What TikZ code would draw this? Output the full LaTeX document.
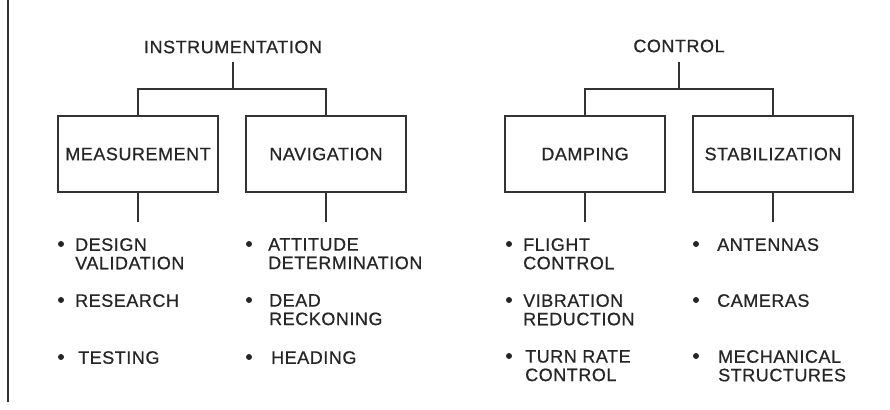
\documentclass[tikz,border=0pt]{standalone}
\usepackage{fontspec}
\setmainfont[LetterSpace=3,FakeBold=0.6]{Liberation Sans}
\definecolor{ink}{HTML}{262626}
\definecolor{ln}{HTML}{333333}
\begin{document}
\begin{tikzpicture}[x=1pt,y=-1pt,
  lbl/.style={inner sep=0pt,text=ink,font=\fontsize{18}{18.5}\selectfont},
  box/.style={draw=ln,line width=1.6pt,minimum width=160pt,minimum height=76pt,inner sep=0pt,text=ink,font=\fontsize{18}{18.5}\selectfont},
  item/.style={lbl,anchor=north west,align=left},
  dot/.style={circle,fill=ink,inner sep=0pt,minimum size=6pt},
  con/.style={draw=ln,line width=1.6pt}]
\useasboundingbox (0,0) rectangle (890,409);
\fill[white] (0,0) rectangle (890,409);
\draw[ln,line width=2pt] (8,0) -- (8,402);
% titles
\node[lbl] (inst) at (233,47) {INSTRUMENTATION};
\node[lbl] (ctrl) at (679,46) {CONTROL};
% boxes
\node[box] (meas) at (138,154) {MEASUREMENT};
\node[box] (nav) at (326,154) {NAVIGATION};
\node[box] (damp) at (585,154) {DAMPING};
\node[box] (stab) at (773,154) {STABILIZATION};
% connectors
\coordinate (j1) at (233,89);
\coordinate (j2) at (679,89);
\draw[con] ([yshift=-8.5pt]inst.south) -- (j1);
\draw[con] (meas.north) |- (j1) -| (nav.north);
\draw[con] ([yshift=-9pt]ctrl.south) -- (j2);
\draw[con] (damp.north) |- (j2) -| (stab.north);
\coordinate (s1) at (138,222);
\coordinate (s2) at (326,222);
\coordinate (s3) at (585,222);
\coordinate (s4) at (773,222);
\draw[con] (meas.south) -- (s1);
\draw[con] (nav.south) -- (s2);
\draw[con] (damp.south) -- (s3);
\draw[con] (stab.south) -- (s4);
% column 1
\node[dot] (b11) at (61,244) {};
\node[item] (t11) at (75,238) {DESIGN\\VALIDATION};
\node[dot] (b12) at (61,300) {};
\node[item] (t12) at (75,294) {RESEARCH};
\node[dot] (b13) at (61,357) {};
\node[item] (t13) at (78,351) {TESTING};
% column 2
\node[dot] (b21) at (249,244) {};
\node[item] (t21) at (268,238) {ATTITUDE\\DETERMINATION};
\node[dot] (b22) at (249,300) {};
\node[item] (t22) at (269,294) {DEAD\\RECKONING};
\node[dot] (b23) at (249,357) {};
\node[item] (t23) at (271,351) {HEADING};
% column 3
\node[dot] (b31) at (509,244) {};
\node[item] (t31) at (523,238) {FLIGHT\\CONTROL};
\node[dot] (b32) at (509,300) {};
\node[item] (t32) at (523,294) {VIBRATION\\REDUCTION};
\node[dot] (b33) at (509,356) {};
\node[item] (t33) at (525,350) {TURN RATE\\CONTROL};
% column 4
\node[dot] (b41) at (696,244) {};
\node[item] (t41) at (717,238) {ANTENNAS};
\node[dot] (b42) at (696,300) {};
\node[item] (t42) at (717,294) {CAMERAS};
\node[dot] (b43) at (696,356) {};
\node[item] (t43) at (718,350) {MECHANICAL\\STRUCTURES};
\end{tikzpicture}
\end{document}
